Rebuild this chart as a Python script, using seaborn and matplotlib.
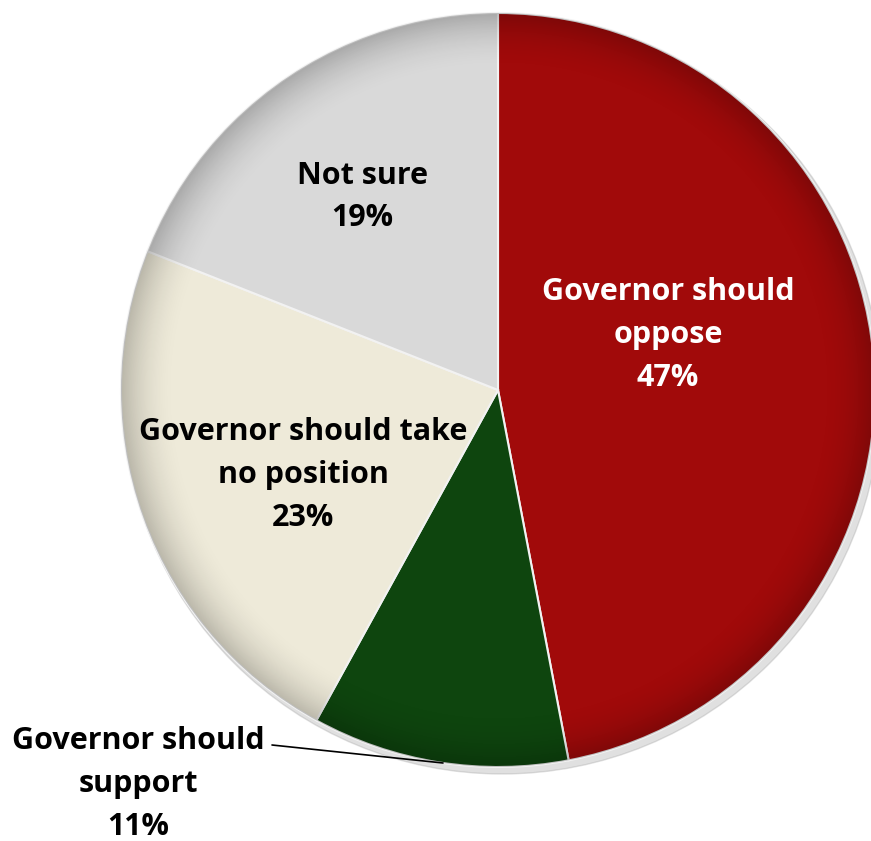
import numpy as np
import matplotlib
matplotlib.use("Agg")
import matplotlib.pyplot as plt
import seaborn as sns

# ------------------------------------
# Data
# ------------------------------------

labels = [
    "Governor should\noppose",
    "Governor should\nsupport",
    "Governor should take\nno position",
    "Not sure",
]
values = [47, 11, 23, 19]
colors = ["#A10A0A", "#0E450E", "#EEEAD9", "#D9D9D9"]
text_colors = ["white", "black", "black", "black"]

# label anchors in pixel space (x, y from top)
label_pos = [(668, 335), (138, 784), (303, 475), (362, 197)]

W, H = 871, 841
CX, CY, R = 498, 390, 377

sns.set_theme(style="white")
plt.rcParams["font.family"] = ["Open Sans", "DejaVu Sans"]

fig = plt.figure(figsize=(W / 100, H / 100), dpi=100)
ax = fig.add_axes([0, 0, 1, 1])

# soft shadow
shadow = plt.Circle((CX + 4, H - CY - 5), R + 2, color="#9a9a9a", alpha=0.3, zorder=0)
ax.add_patch(shadow)

wedges, _ = ax.pie(
    values,
    colors=colors,
    startangle=90,
    counterclock=False,
    center=(CX, H - CY),
    radius=R,
    wedgeprops=dict(edgecolor="#f2f2f2", linewidth=1.5),
    frame=True,
)
ax.set_xlim(0, W)
ax.set_ylim(0, H)
ax.set_aspect("equal")
ax.axis("off")

# rim shading to mimic the bevelled look
yy, xx = np.mgrid[0:H, 0:W]
dist = np.hypot(xx - CX, yy - CY) / R
alpha = np.clip((dist - 0.85) / 0.15, 0, 1) ** 2 * 0.22
shade = np.zeros((H, W, 4))
shade[..., 3] = alpha
im = ax.imshow(shade, extent=(0, W, 0, H), origin="upper", zorder=3)
clip = plt.Circle((CX, H - CY), R, transform=ax.transData)
im.set_clip_path(clip)
ax.set_xlim(0, W)
ax.set_ylim(0, H)

for i, (lab, val) in enumerate(zip(labels, values)):
    x, y = label_pos[i]
    ax.text(
        x, H - y,
        f"{lab}\n{val}%",
        ha="center", va="center",
        fontsize=22, fontweight="bold",
        color=text_colors[i],
        linespacing=1.55,
        zorder=5,
    )

# leader line for the small slice
ax.plot([272, 443], [H - 745, H - 763], color="black", linewidth=1.2, zorder=5)

fig.savefig("out.png", dpi=100)
